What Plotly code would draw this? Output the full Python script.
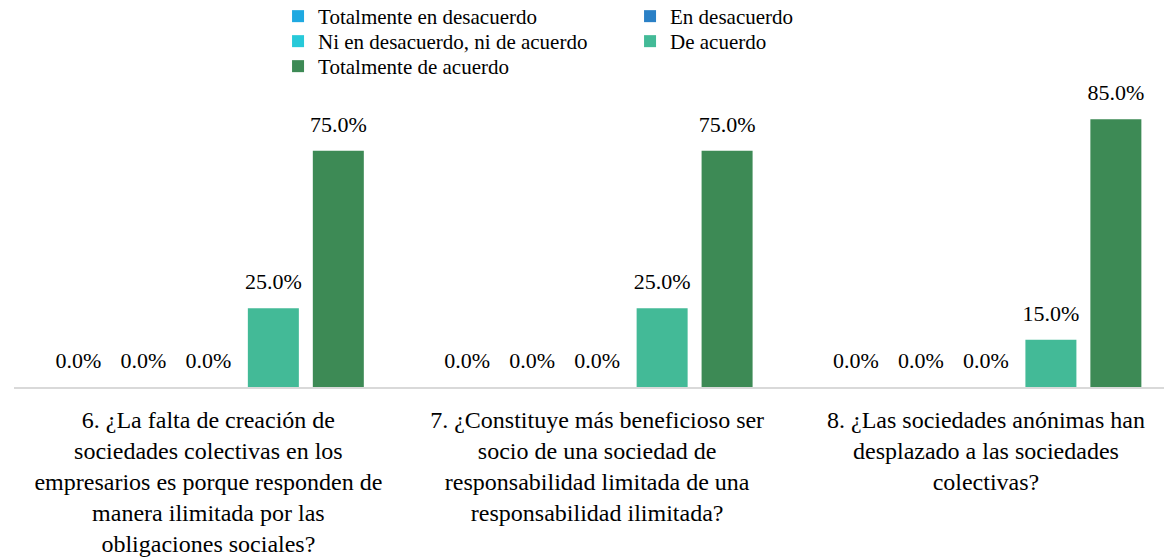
import plotly.graph_objects as go

categories = [
    "6. ¿La falta de creación de<br>sociedades colectivas en los<br>empresarios es porque responden de<br>manera ilimitada por las<br>obligaciones sociales?",
    "7. ¿Constituye más beneficioso ser<br>socio de una sociedad de<br>responsabilidad limitada de una<br>responsabilidad ilimitada?",
    "8. ¿Las sociedades anónimas han<br>desplazado a las sociedades<br>colectivas?",
]
series_names = [
    "Totalmente en desacuerdo",
    "En desacuerdo",
    "Ni en desacuerdo, ni de acuerdo",
    "De acuerdo",
    "Totalmente de acuerdo",
]
series_values = [
    [0.0, 0.0, 0.0],
    [0.0, 0.0, 0.0],
    [0.0, 0.0, 0.0],
    [25.0, 25.0, 15.0],
    [75.0, 75.0, 85.0],
]
colors = ["#1FA9E1", "#2A80C6", "#27C9D9", "#43BA97", "#3D8A55"]
legend_slot = ["legend", "legend", "legend2", "legend2", "legend3"]

FONT = "Liberation Serif"
GAP = 0.1645
fig = go.Figure()
for name, vals, col, lg in zip(series_names, series_values, colors, legend_slot):
    fig.add_trace(go.Bar(
        name=name, x=categories, y=vals, marker_color=col,
        marker_line_width=0, legend=lg, hoverinfo="skip",
    ))
# data labels, grouped like the bars
for name, vals in zip(series_names, series_values):
    fig.add_trace(go.Scatter(
        name=name, x=categories, y=vals, mode="markers+text",
        marker=dict(size=20, opacity=0), showlegend=False,
        text=[f"{v:.1f}%" for v in vals], textposition="top center",
        textfont=dict(family=FONT, size=22, color="#000"),
        cliponaxis=False, hoverinfo="skip",
    ))

PLOT_H = 387.0
def row_y(top_px):
    return 1 - top_px / PLOT_H

legend_common = dict(orientation="h", yref="paper", xref="paper", yanchor="top",
                     xanchor="left", traceorder="normal", entrywidth=307,
                     font=dict(family=FONT, size=21, color="#000"),
                     bgcolor="rgba(0,0,0,0)", borderwidth=0, itemclick=False)
LEG_X = 0.2296

fig.update_layout(
    width=1164, height=557,
    margin=dict(l=14, r=0, t=0, b=170, autoexpand=False),
    paper_bgcolor="white", plot_bgcolor="white",
    barmode="group", bargap=GAP, bargroupgap=0.215,
    scattermode="group", scattergap=GAP,
    font=dict(family=FONT, size=20, color="#000"),
    legend=dict(x=LEG_X, y=row_y(-4), **legend_common),
    legend2=dict(x=LEG_X, y=row_y(21), **legend_common),
    legend3=dict(x=LEG_X, y=row_y(46), **legend_common),
    showlegend=True,
    hovermode=False,
)
fig.update_xaxes(range=[-0.5, 2.458], showline=True, linecolor="#D9D9D9", linewidth=1.5,
                 ticks="", tickfont=dict(family=FONT, size=24, color="#000"),
                 ticklabelstandoff=10,
                 showgrid=False, fixedrange=True, automargin=False)
fig.update_yaxes(range=[0, 122.9], visible=False, showgrid=False, zeroline=False,
                 fixedrange=True)

fig.write_html("out.html", config={"displayModeBar": False},
               post_script="document.body.style.margin='0';")
